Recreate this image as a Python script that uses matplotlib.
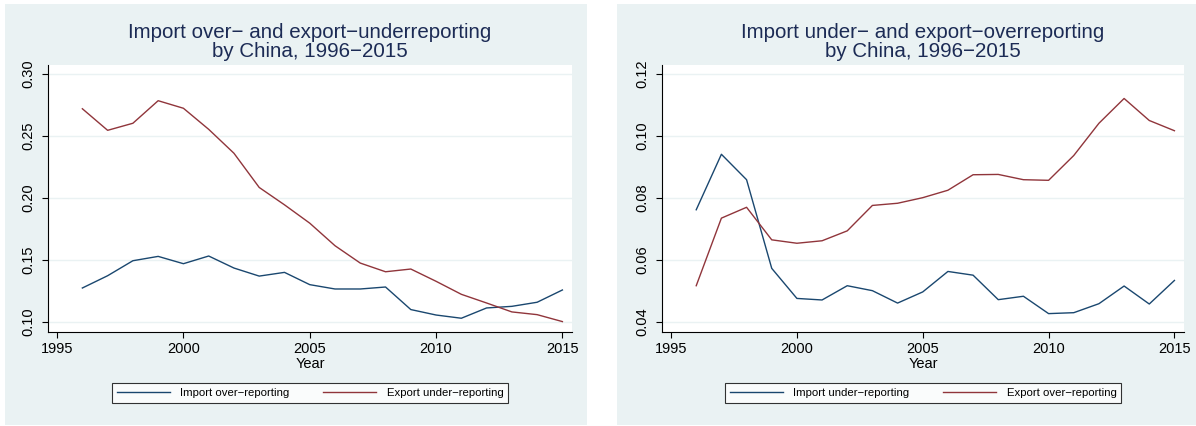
"""Two-panel Stata-style line chart of China's trade misreporting, 1996-2015."""
import matplotlib

matplotlib.use("Agg")
import matplotlib.pyplot as plt
from matplotlib.patches import Rectangle

plt.rcParams["font.family"] = ["Liberation Sans", "DejaVu Sans"]

years = list(range(1996, 2016))

# left panel: import over- / export under-reporting
import_over = [0.1274, 0.1373, 0.1494, 0.1529, 0.1470, 0.1532, 0.1435, 0.1370, 0.1400, 0.1301,
               0.1266, 0.1266, 0.1282, 0.1100, 0.1056, 0.1030, 0.1113, 0.1126, 0.1159, 0.1258]
export_under = [0.2720, 0.2546, 0.2603, 0.2785, 0.2724, 0.2554, 0.2361, 0.2085, 0.1945, 0.1797,
                0.1615, 0.1475, 0.1405, 0.1427, 0.1328, 0.1223, 0.1153, 0.1081, 0.1059, 0.1003]

# right panel: import under- / export over-reporting
import_under = [0.0762, 0.0941, 0.0859, 0.0573, 0.0476, 0.0471, 0.0517, 0.0501, 0.0461, 0.0497,
                0.0563, 0.0551, 0.0472, 0.0483, 0.0427, 0.0430, 0.0459, 0.0516, 0.0458, 0.0534]
export_over = [0.0517, 0.0735, 0.0770, 0.0665, 0.0654, 0.0662, 0.0694, 0.0776, 0.0783, 0.0801,
               0.0825, 0.0875, 0.0876, 0.0859, 0.0857, 0.0937, 0.1041, 0.1121, 0.1050, 0.1017]

left_yticks = [0.10, 0.15, 0.20, 0.25, 0.30]
right_yticks = [0.04, 0.06, 0.08, 0.10, 0.12]
xticks = [1995, 2000, 2005, 2010, 2015]

left_title = "Import over\u2212 and export\u2212underreporting\nby China, 1996\u22122015"
right_title = "Import under\u2212 and export\u2212overreporting\nby China, 1996\u22122015"
left_labels = ["Import over\u2212reporting", "Export under\u2212reporting"]
right_labels = ["Import under\u2212reporting", "Export over\u2212reporting"]

NAVY = "#1a476f"
MAROON = "#90353b"
BG = "#eaf2f3"
TITLE = "#1c2b55"

W, H = 1196, 426
fig = plt.figure(figsize=(W / 100, H / 100), dpi=100)
fig.patch.set_facecolor("white")


def px_box(x0, y0, x1, y1):
    """Pixel box (top-left origin) -> figure fraction [l, b, w, h]."""
    return [x0 / W, 1 - y1 / H, (x1 - x0) / W, (y1 - y0) / H]


for box in (px_box(5, 4, 587, 425), px_box(617, 4, 1196, 425)):
    fig.patches.append(Rectangle((box[0], box[1]), box[2], box[3], transform=fig.transFigure,
                                 facecolor=BG, edgecolor="none", zorder=-5))


def panel(box, legend_box, s1, s2, labels, yticks, ylim, title):
    ax = fig.add_axes(box)
    ax.plot(years, s1, color=NAVY, lw=1.0, label=labels[0])
    ax.plot(years, s2, color=MAROON, lw=1.0, label=labels[1])
    ax.set_xlim(1994.64, 2015.38)
    ax.set_ylim(*ylim)
    ax.set_xticks(xticks)
    ax.set_yticks(yticks, [f"{v:.2f}" for v in yticks], rotation=90, va="center")
    ax.tick_params(axis="both", direction="out", length=4, width=0.8, labelsize=10.5, color="black")
    ax.tick_params(axis="y", pad=5)
    ax.tick_params(axis="x", pad=3)
    ax.grid(axis="y", color=BG, lw=1.0)
    ax.set_axisbelow(True)
    for s in ("top", "right"):
        ax.spines[s].set_visible(False)
    for s in ("left", "bottom"):
        ax.spines[s].set_linewidth(0.8)
    ax.set_xlabel("Year", fontsize=10.5, labelpad=1)
    ax.set_title(title, fontsize=14.8, color=TITLE, pad=6, linespacing=1.0)
    leg = ax.legend(loc="center", bbox_to_anchor=legend_box, bbox_transform=fig.transFigure,
                    ncol=2, fontsize=8.2, frameon=True, fancybox=False, handlelength=4.7,
                    handletextpad=0.9, columnspacing=2.0, borderaxespad=0, mode="expand")
    leg.get_frame().set_edgecolor("black")
    leg.get_frame().set_linewidth(0.8)
    return ax


panel(px_box(48, 65, 572, 332), px_box(112, 379, 508, 407), import_over, export_under,
      left_labels, left_yticks, (0.0919, 0.3073), left_title)
panel(px_box(662, 65, 1184, 332), px_box(725, 379, 1121, 407), import_under, export_over,
      right_labels, right_yticks, (0.03677, 0.1229), right_title)

fig.savefig("out.png", dpi=100)
